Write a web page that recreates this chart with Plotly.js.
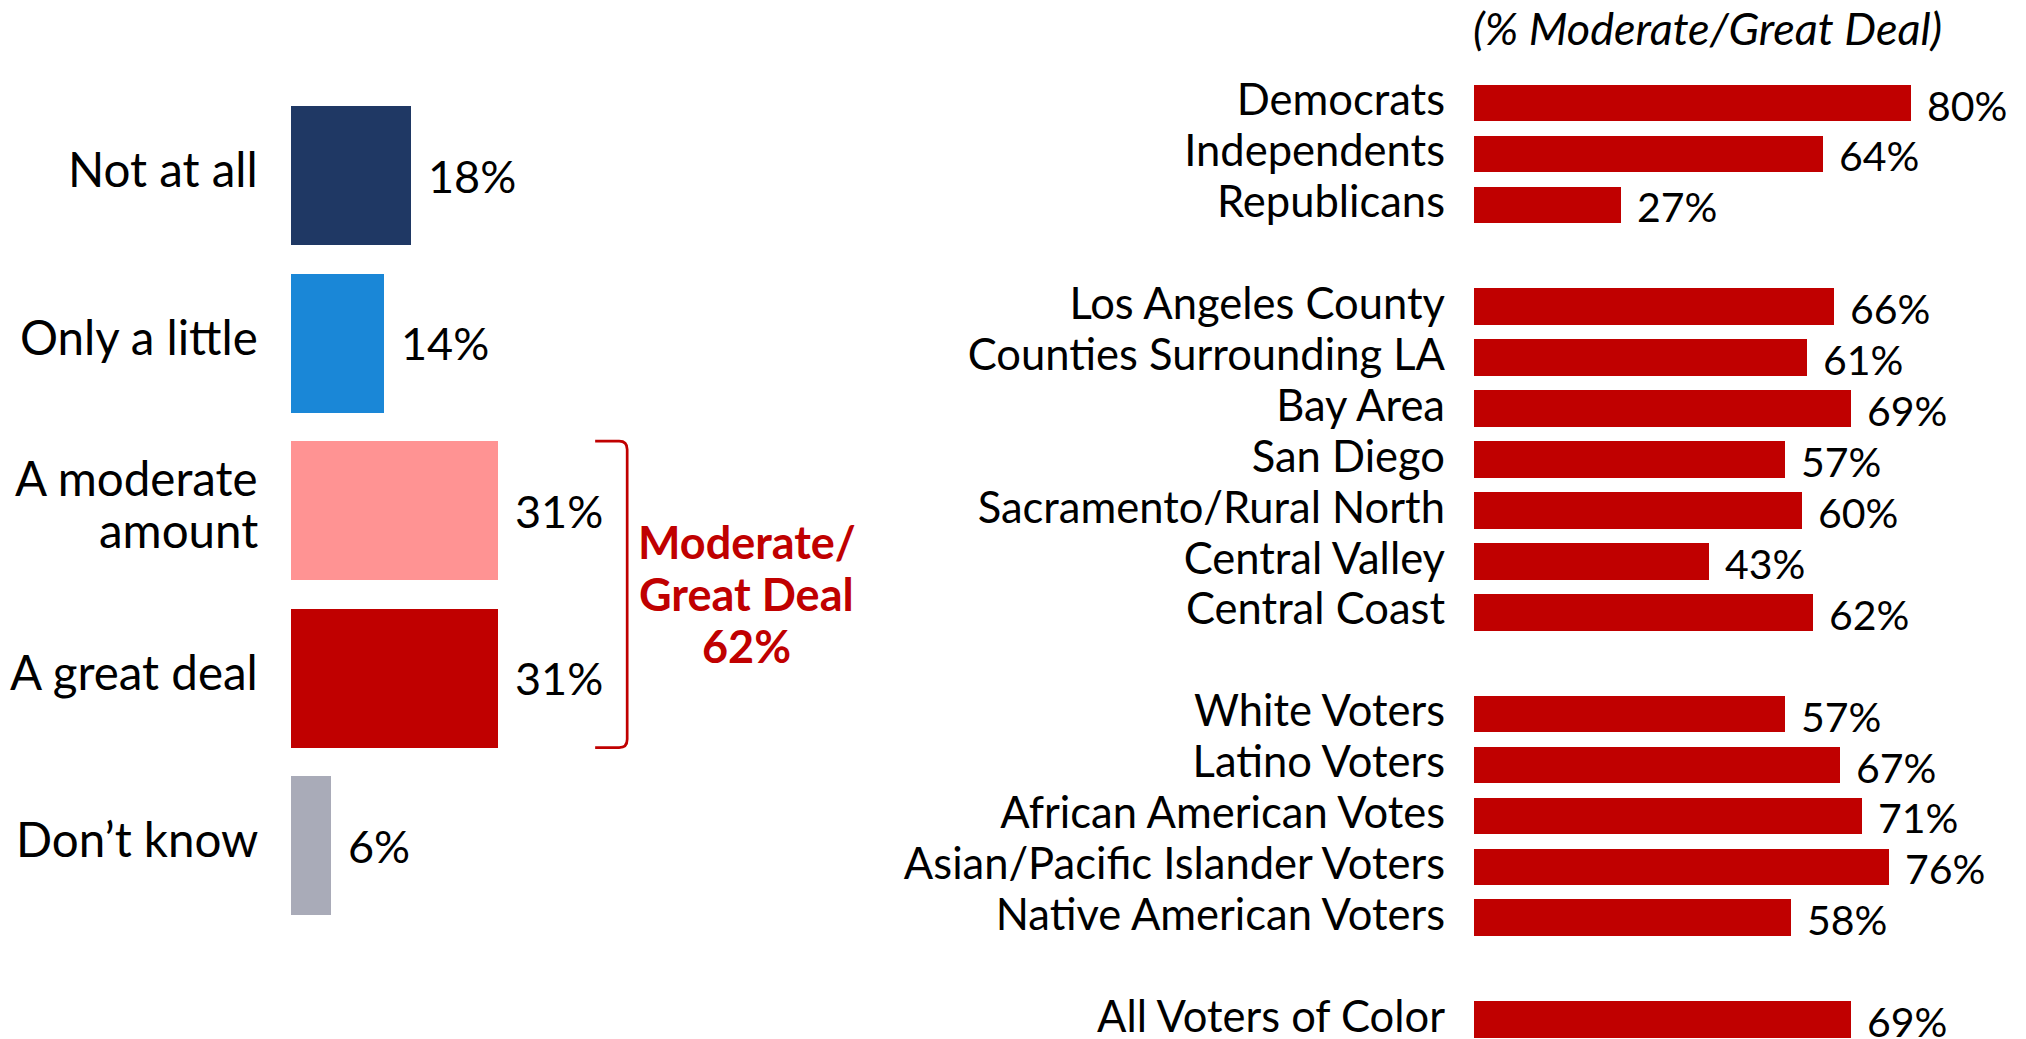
<!DOCTYPE html>
<html>
<head>
<meta charset="utf-8">
<script src="https://cdn.plot.ly/plotly-3.0.1.min.js"></script>
<style>html,body{margin:0;padding:0;background:#fff;}#chart{width:2026px;height:1039px;}</style>
</head>
<body>
<div id="chart"></div>
<script>
// ---- Data ----
const leftLabels = ["Not at all", "Only a little", "A moderate<br>amount", "A great deal", "Don’t know"];
const leftValues = [18, 14, 31, 31, 6];
const leftColors = ["#1F3864", "#1A87D7", "#FF9393", "#C00000", "#A9ABB8"];

const partyLabels = ["Democrats", "Independents", "Republicans"];
const partyValues = [80, 64, 27];
const regionLabels = ["Los Angeles County", "Counties Surrounding LA", "Bay Area", "San Diego", "Sacramento/Rural North", "Central Valley", "Central Coast"];
const regionValues = [66, 61, 69, 57, 60, 43, 62];
const ethnicLabels = ["White Voters", "Latino Voters", "African American Votes", "Asian/Pacific Islander Voters", "Native American Voters"];
const ethnicValues = [57, 67, 71, 76, 58];
const overallLabels = ["All Voters of Color"];
const overallValues = [69];

const rightTitle = "(% Moderate/Great Deal)";
const summaryLines = ["Moderate/", "Great Deal"];

// ---- Build right-chart slots (one blank slot between groups) ----
const groups = [[partyLabels, partyValues], [regionLabels, regionValues], [ethnicLabels, ethnicValues], [overallLabels, overallValues]];
const rLabels = [], rValues = [], rPos = [];
let slot = 0;
groups.forEach(([labs, vals]) => {
  labs.forEach((l, i) => { rLabels.push(l); rValues.push(vals[i]); rPos.push(slot); slot++; });
  slot++;
});
const leftPos = leftLabels.map((_, i) => i);

const FONT = "Lato, 'Open Sans', sans-serif";
const LFS = 47.5, LVFS = 45, RFS = 43.5, RVFS = 41;
const RED = "#C00000";

const traces = [
  {type: "bar", orientation: "h", x: leftValues, y: leftPos, marker: {color: leftColors}, width: 0.83,
   xaxis: "x", yaxis: "y", hoverinfo: "skip"},
  {type: "bar", orientation: "h", x: rValues, y: rPos, marker: {color: RED}, width: 0.72,
   xaxis: "x2", yaxis: "y2", hoverinfo: "skip"}
];

const annotations = [];
// left category labels (right-aligned, tight line spacing)
const LINE = 52;
leftLabels.forEach((lab, i) => {
  const lines = lab.split("<br>");
  lines.forEach((ln, k) => {
    annotations.push({
      x: 0.1283, xref: "paper", y: leftPos[i], yref: "y", text: ln, showarrow: false,
      xanchor: "right", yanchor: "middle", yshift: 7 + ((lines.length - 1) / 2 - k) * LINE,
      font: {family: FONT, size: LFS, color: "#000"}
    });
  });
});
leftValues.forEach((v, i) => annotations.push({
  x: v, y: leftPos[i], xref: "x", yref: "y", text: v + "%", showarrow: false,
  xanchor: "left", yanchor: "middle", xshift: 15, font: {family: FONT, size: LVFS, color: "#000"}
}));
rValues.forEach((v, i) => annotations.push({
  x: v, y: rPos[i], xref: "x2", yref: "y2", text: v + "%", showarrow: false,
  xanchor: "left", yanchor: "middle", xshift: 14, yshift: -2, font: {family: FONT, size: RVFS, color: "#000"}
}));
const sumVal = leftValues[2] + leftValues[3];
const sumLines = summaryLines.concat([sumVal + "%"]);
sumLines.forEach((t, k) => annotations.push({
  x: 0.3686, xref: "paper", y: 2.5, yref: "y", yshift: (1 - k) * LINE, text: "<b>" + t + "</b>",
  showarrow: false, xanchor: "center", yanchor: "middle",
  font: {family: FONT, size: 45, color: RED}
}));
annotations.push({
  x: 0.843, xref: "paper", y: 0.973, yref: "paper", yanchor: "middle", text: "<i>" + rightTitle + "</i>",
  showarrow: false, xanchor: "center", font: {family: FONT, size: 45, color: "#000"}
});

// bracket (left axis data units)
const yT = 2 - 0.415, yB = 3 + 0.415, x0 = 45.6, x1 = 50.4, rx = 1.2, ry = 0.05;
const bracket = `M ${x0},${yT} L ${x1 - rx},${yT} Q ${x1},${yT} ${x1},${yT + ry} L ${x1},${yB - ry} Q ${x1},${yB} ${x1 - rx},${yB} L ${x0},${yB}`;

const layout = {
  width: 2026, height: 1039,
  margin: {l: 0, r: 0, t: 0, b: 0},
  paper_bgcolor: "#fff", plot_bgcolor: "rgba(0,0,0,0)",
  showlegend: false, bargap: 0,
  font: {family: FONT, color: "#000"},
  xaxis: {domain: [0.14363, 0.37409], range: [0, 70], visible: false, fixedrange: true},
  yaxis: {domain: [0, 1], range: [5.155, -1.048], tickvals: leftPos, showticklabels: false,
          showgrid: false, zeroline: false, showline: false, ticks: "", fixedrange: true},
  xaxis2: {domain: [0.72754, 0.99704], range: [0, 100], visible: false, anchor: "y2", fixedrange: true},
  yaxis2: {domain: [0, 1], range: [18.38, -2.023], tickvals: rPos, ticktext: rLabels, anchor: "x2",
           showgrid: false, zeroline: false, showline: false, ticks: "", ticklabelstandoff: 28,
           ticklabeloverflow: "allow", ticklabelshift: 3,
           tickfont: {family: FONT, size: RFS, color: "#000"}, fixedrange: true},
  shapes: [{type: "path", xref: "x", yref: "y", path: bracket, line: {color: RED, width: 2.7}}],
  annotations: annotations
};

Plotly.newPlot("chart", traces, layout, {staticPlot: true, displayModeBar: false});
</script>
</body>
</html>
